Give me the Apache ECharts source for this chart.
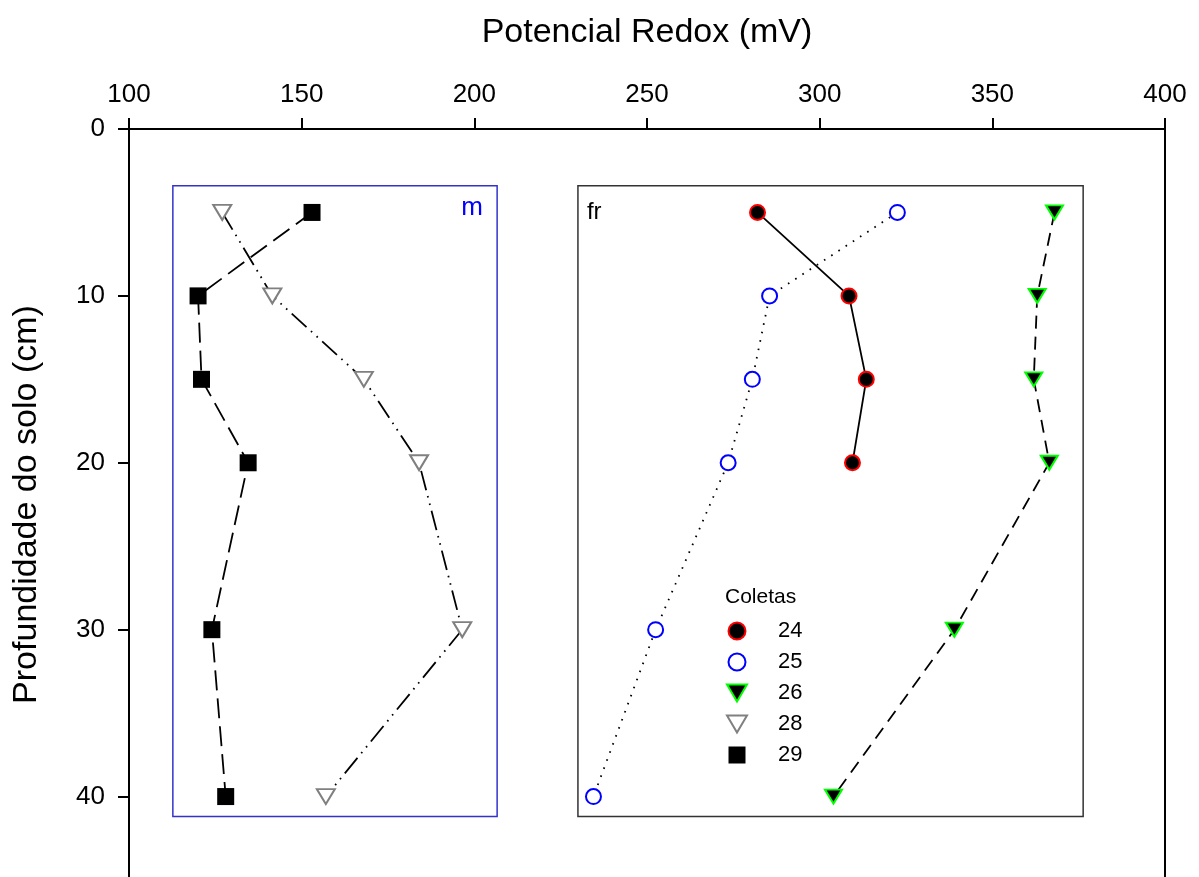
<!DOCTYPE html>
<html>
<head>
<meta charset="utf-8">
<script src="https://cdn.jsdelivr.net/npm/echarts@6/dist/echarts.min.js"></script>
<style>
  html, body { margin: 0; padding: 0; background: #fff; }
  #chart { width: 1199px; height: 877px; }
</style>
</head>
<body>
<div id="chart"></div>
<script>
// Soil depth (cm) of each sampling
const depth6 = [5, 10, 15, 20, 30, 40];
const depth4 = [5, 10, 15, 20];

// Redox potential (mV) for each sampling campaign ("Coletas")
const redox24 = [282, 308.5, 313.5, 309.5];
const redox25 = [322.5, 285.5, 280.5, 273.5, 252.5, 234.5];
const redox26 = [368, 363, 362, 366.5, 339, 304];
const redox28 = [127, 141.5, 168, 184, 196.5, 157];
const redox29 = [153, 120, 121, 134.5, 124, 128];

const xTicks = [100, 150, 200, 250, 300, 350, 400];
const yTicks = [0, 10, 20, 30, 40];

const FONT = '"Liberation Sans", Arial, Helvetica, sans-serif';
const DOWN_TRI = 'path://M0,0L20,0L10,17Z';
const SQUARE = 'path://M0,0L10,0L10,10L0,10Z';

function pairs(xs, ys) { return xs.map((x, i) => [x, ys[i]]); }

const chart = echarts.init(document.getElementById('chart'), null, { renderer: 'canvas' });

const option = {
  animation: false,
  backgroundColor: '#fff',
  textStyle: { fontFamily: FONT },
  title: {
    text: 'Coletas',
    left: 725,
    top: 587,
    padding: 0,
    textStyle: { fontFamily: FONT, fontSize: 21, fontWeight: 'normal', color: '#000' }
  },
  grid: {
    left: 129, right: 34, top: 129, bottom: -3,
    containLabel: false,
    outerBoundsMode: 'none',
    show: true, borderColor: '#000', borderWidth: 2, backgroundColor: 'transparent'
  },
  xAxis: {
    type: 'value',
    position: 'top',
    min: xTicks[0], max: xTicks[xTicks.length - 1], interval: 50,
    name: 'Potencial Redox (mV)',
    nameLocation: 'middle',
    nameGap: 79,
    nameTextStyle: { fontFamily: FONT, fontSize: 34, color: '#000' },
    axisLine: { show: true, lineStyle: { color: '#000', width: 2 } },
    axisTick: { show: true, length: 11, lineStyle: { color: '#000', width: 2 } },
    axisLabel: { fontFamily: FONT, fontSize: 26, color: '#000', margin: 21 },
    splitLine: { show: false }
  },
  yAxis: {
    type: 'value',
    inverse: true,
    min: 0, max: 45, interval: 10,
    name: 'Profundidade do solo (cm)',
    nameLocation: 'middle',
    nameGap: 85,
    nameRotate: 90,
    nameTextStyle: { fontFamily: FONT, fontSize: 34, color: '#000' },
    axisLine: { show: true, onZero: false, lineStyle: { color: '#000', width: 2 } },
    axisTick: { show: true, length: 11, lineStyle: { color: '#000', width: 2 } },
    axisLabel: {
      fontFamily: FONT, fontSize: 26, color: '#000', margin: 24,
      formatter: v => (yTicks.indexOf(v) >= 0 ? String(v) : '')
    },
    splitLine: { show: false }
  },
  legend: {
    orient: 'vertical',
    left: 726,
    top: 620,
    padding: 0,
    itemWidth: 72,
    itemHeight: 17,
    itemGap: 9,
    selectedMode: false,
    textStyle: { fontFamily: FONT, fontSize: 22, color: '#000' },
    data: [
      { name: '24', icon: 'circle', itemStyle: { color: '#000', borderColor: '#ff0000', borderWidth: 2 } },
      { name: '25', icon: 'circle', itemStyle: { color: '#fff', borderColor: '#0000ff', borderWidth: 2 } },
      { name: '26', icon: DOWN_TRI, itemStyle: { color: '#000', borderColor: '#00ff00', borderWidth: 2 } },
      { name: '28', icon: DOWN_TRI, itemStyle: { color: '#fff', borderColor: '#808080', borderWidth: 2 } },
      { name: '29', icon: SQUARE, itemStyle: { color: '#000', borderColor: '#000', borderWidth: 0 } }
    ]
  },
  series: [
    {
      name: '24', type: 'line',
      data: pairs(redox24, depth4),
      symbol: 'circle', symbolSize: 15,
      lineStyle: { color: '#000', width: 1.8, type: 'solid' },
      itemStyle: { color: '#000', borderColor: '#ff0000', borderWidth: 2 },
      z: 3,
      // frame of the "fr" panel
      markArea: {
        silent: true,
        itemStyle: { color: 'rgba(0,0,0,0)', borderColor: '#333', borderWidth: 1.5 },
        label: { show: false },
        data: [[{ xAxis: 230, yAxis: 3.4 }, { xAxis: 376.3, yAxis: 41.2 }]]
      }
    },
    {
      name: '25', type: 'line',
      data: pairs(redox25, depth6),
      symbol: 'circle', symbolSize: 15,
      lineStyle: { color: '#000', width: 1.8, type: [1.6, 7] },
      itemStyle: { color: '#fff', borderColor: '#0000ff', borderWidth: 2 },
      z: 3
    },
    {
      name: '26', type: 'line',
      data: pairs(redox26, depth6),
      symbol: DOWN_TRI, symbolSize: [17, 14],
      lineStyle: { color: '#000', width: 1.8, type: [13, 8] },
      itemStyle: { color: '#000', borderColor: '#00ff00', borderWidth: 2 },
      z: 3
    },
    {
      name: '28', type: 'line',
      data: pairs(redox28, depth6),
      symbol: DOWN_TRI, symbolSize: [18, 15],
      lineStyle: { color: '#000', width: 1.8, type: [20, 6, 1.6, 6, 1.6, 6] },
      itemStyle: { color: '#fff', borderColor: '#808080', borderWidth: 2 },
      z: 3
    },
    {
      name: '29', type: 'line',
      data: pairs(redox29, depth6),
      symbol: SQUARE, symbolSize: 17,
      lineStyle: { color: '#000', width: 1.8, type: [20, 8] },
      itemStyle: { color: '#000', borderWidth: 0 },
      z: 3,
      // frame of the "m" panel
      markArea: {
        silent: true,
        itemStyle: { color: 'rgba(0,0,0,0)', borderColor: '#3333cc', borderWidth: 1.5 },
        label: { show: false },
        data: [[{ xAxis: 112.7, yAxis: 3.4 }, { xAxis: 206.6, yAxis: 41.2 }]]
      }
    }
  ]
};

chart.setOption(option);

// Panel names, anchored in axis units inside each frame
const panelLabels = [
  { text: 'm', at: [202.5, 4.7], align: 'right', color: '#0000ff', size: 26 },
  { text: 'fr', at: [232.6, 5.0], align: 'left', color: '#000', size: 24 }
];
chart.setOption({
  graphic: panelLabels.map(p => {
    const [px, py] = chart.convertToPixel({ gridIndex: 0 }, p.at);
    return {
      type: 'text', x: px, y: py, z: 10, silent: true,
      style: {
        text: p.text, fill: p.color, font: p.size + 'px ' + FONT,
        textAlign: p.align, textVerticalAlign: 'middle'
      }
    };
  })
});
</script>
</body>
</html>
